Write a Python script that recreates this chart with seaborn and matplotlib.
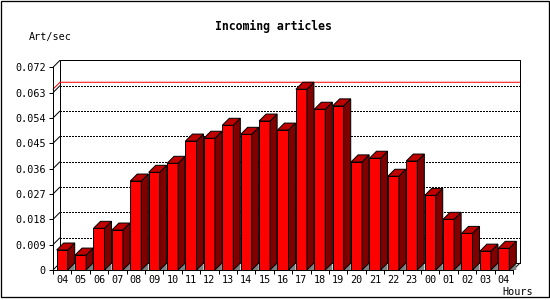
import numpy as np
import pandas as pd
import matplotlib
matplotlib.use("Agg")
import matplotlib.pyplot as plt
import seaborn as sns
from matplotlib.patches import Polygon, Rectangle

# ---- data ----
hours = ["04", "05", "06", "07", "08", "09", "10", "11", "12", "13", "14", "15",
         "16", "17", "18", "19", "20", "21", "22", "23", "00", "01", "02", "03", "04"]
rates = [0.0071, 0.0053, 0.0148, 0.0142, 0.0316, 0.0347, 0.0379, 0.0458, 0.0468,
         0.0514, 0.0482, 0.0529, 0.0497, 0.0642, 0.0571, 0.0583, 0.0384, 0.0397,
         0.0333, 0.0387, 0.0265, 0.0180, 0.0130, 0.0067, 0.0077]
yticks = [0, 0.009, 0.018, 0.027, 0.036, 0.045, 0.054, 0.063, 0.072]
ytick_labels = ["0", "0.009", "0.018", "0.027", "0.036", "0.045", "0.054", "0.063", "0.072"]
title = "Incoming articles"
ylabel = "Art/sec"
xlabel = "Hours"

# ---- style ----
sns.set_theme(style="white")
plt.rcParams["font.family"] = ["DejaVu Sans Mono", "DejaVu Sans"]
LW = 0.72  # 1 px at 100 dpi
FRONT, SIDE, TOP, SHADOW = "#FF0000", "#800000", "#C00000", "#808080"
W, H = 550, 300

fig = plt.figure(figsize=(5.5, 3), dpi=100)
fig.patch.set_facecolor("white")
ax = fig.add_axes([53 / W, 30 / H, 460 / W, (270 - 67.3) / H])
ax.set_facecolor("none")

df = pd.DataFrame({"slot": list(range(len(hours))), "rate": rates})
sns.barplot(data=df, x="slot", y="rate", color=FRONT, saturation=1, width=0.6,
            edgecolor="black", linewidth=LW, ax=ax, zorder=5)

n = len(hours)
xmin, xmax = -0.5, n - 0.5
ymax = yticks[-1]
ax.set_xlim(xmin, xmax)
ax.set_ylim(0, ymax)

# depth of the 3D effect (7 px) in data units
dx = 7 / (ax.bbox.width / (xmax - xmin))
dy = 7 / (ax.bbox.height / ymax)

# back wall
kw = dict(color="black", lw=LW, clip_on=False, solid_capstyle="butt")
ax.plot([xmin + dx, xmin + dx, xmax + dx, xmax + dx, xmin + dx],
        [dy, ymax + dy, ymax + dy, dy, dy], zorder=1, **kw)
ax.plot([xmax, xmax + dx], [0, dy], zorder=1, **kw)
for t in yticks:
    ax.plot([xmin, xmin + dx], [t, t + dy], zorder=1, **kw)
for t in yticks[1:-1]:
    ax.plot([xmin + dx, xmax + dx], [t + dy, t + dy], color="black", lw=1.0,
            ls=(0, (1.44, 1.44)), clip_on=False, zorder=1, antialiased=False)

# max line
vmax = max(rates)
ax.plot([xmin, xmin + dx, xmax + dx], [vmax, vmax + dy, vmax + dy],
        color="red", lw=LW, clip_on=False, zorder=2)

# 3D sides, tops and floor shadows
for p in ax.patches[:n]:
    x0 = p.get_x()
    x1 = x0 + p.get_width()
    h = p.get_height()
    ax.add_patch(Polygon([(x1, 0), (x1 + dx, dy), (x1 + dx, 0)], closed=True,
                         facecolor=SHADOW, edgecolor="none", clip_on=False, zorder=4))
    ax.add_patch(Polygon([(x1, 0), (x1, h), (x1 + dx, h + dy), (x1 + dx, dy)], closed=True,
                         facecolor=SIDE, edgecolor="black", lw=LW, clip_on=False, zorder=5))
    ax.add_patch(Polygon([(x0, h), (x1, h), (x1 + dx, h + dy), (x0 + dx, h + dy)], closed=True,
                         facecolor=TOP, edgecolor="black", lw=LW, clip_on=False, zorder=5))

# front axes
for s in ["top", "right"]:
    ax.spines[s].set_visible(False)
for s in ["left", "bottom"]:
    ax.spines[s].set_visible(True)
    ax.spines[s].set_color("black")
    ax.spines[s].set_linewidth(LW)
    ax.spines[s].set_zorder(6)

ax.set_yticks(yticks)
ax.set_yticklabels(ytick_labels)
ax.set_xticks(range(n))
ax.set_xticklabels(hours)
ax.set_xticks(np.arange(xmin, xmax + 0.01, 1.0), minor=True)
ax.tick_params(axis="y", which="major", left=True, length=2.9, width=LW, pad=2.2,
               color="black", labelsize=7.3, labelcolor="black", direction="out")
ax.tick_params(axis="x", which="major", bottom=True, length=0, pad=3.6,
               labelsize=7.3, labelcolor="black")
ax.tick_params(axis="x", which="minor", bottom=True, length=2.9, width=LW,
               color="black", direction="out")
ax.set_xlabel("")
ax.set_ylabel("")
ax.grid(False)

# texts
fig.text(273.6 / W, 1 - 26.7 / H, title, ha="center", va="center",
         fontsize=8.3, fontweight="bold", color="black")
fig.text(29 / W, 1 - 37.3 / H, ylabel, ha="left", va="center", fontsize=7.3, color="black")
fig.text(533 / W, 1 - 291.7 / H, xlabel, ha="right", va="center", fontsize=7.3, color="black")

# outer frame
fig.patches.append(Rectangle((0.5 / W, 3.5 / H), 548 / W, 296 / H, transform=fig.transFigure,
                             fill=False, edgecolor="black", lw=LW * 1.3))

fig.savefig("out.png", dpi=100, facecolor="white")
